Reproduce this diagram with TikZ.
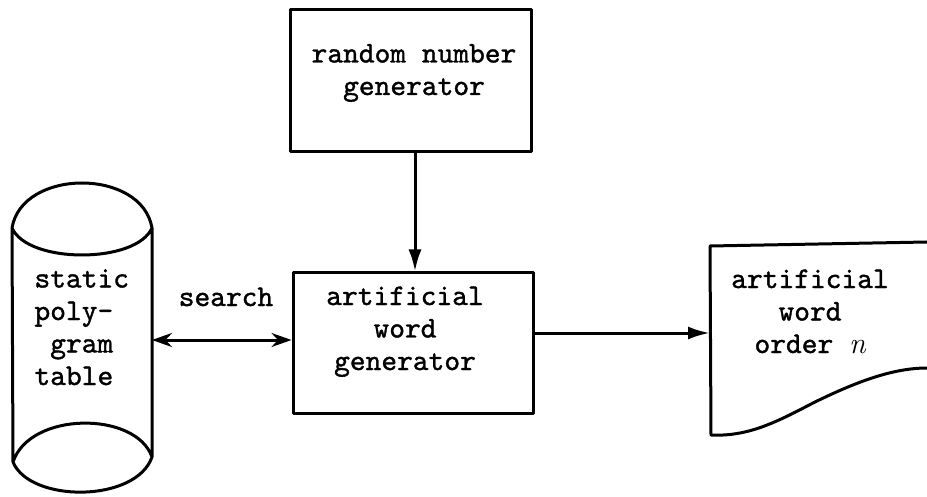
\documentclass[tikz,border=0pt]{standalone}
\usepackage{fontspec}
\newfontfamily\twfont{lmmono10-regular.otf}[FakeBold=1.2]
\usetikzlibrary{arrows.meta}
\begin{document}
\begin{tikzpicture}[x=1pt,y=-1pt,line width=3pt,line join=round,
  tw/.style={font=\fontsize{30}{32.5}\selectfont\twfont,inner sep=0pt},
  box/.style={draw,inner sep=0pt},
  arr/.style={-{Latex[length=22pt,width=13pt]}},
  dblarr/.style={{Stealth[length=20pt,width=14pt]}-{Stealth[length=20pt,width=14pt]}}]
\useasboundingbox (0,0) rectangle (927,497);

% process boxes
\node[box,minimum width=241pt,minimum height=142pt] (rng) at (410.5,81) {};
\node[tw,align=center,anchor=base] (rngtxt) at (414,95) {random number\\generator};

\node[box,minimum width=240pt,minimum height=140pt] (gen) at (413,343) {};
\node[tw,align=center,anchor=base] (gentxt) at (405,370) {artificial\\word\\generator};

% storage cylinder
\draw (12,228) .. controls (22,168) and (142,168) .. (152,228)
      (12,228) .. controls (28,264) and (136,264) .. (152,228)
      (12,228) -- (13,462)
      (152,228) -- (152,457)
      (13,462) .. controls (30,411) and (136,411) .. (152,457)
      (13,462) .. controls (30,503) and (136,503) .. (152,457);
\node[tw,align=left,anchor=base west] (tbl) at (33,385) {static\\poly-\\\phantom{g}gram\\table};
\coordinate (tblport) at (152,340);

% output document
\draw (927,242) -- (710,246) -- (711,435)
      .. controls (750,437) and (780,420) .. (815,402)
      .. controls (860,380) and (895,368) .. (927,368);
\node[tw,align=center,anchor=base] (doctxt) at (810,353) {artificial\\word\\order {\rmfamily\itshape n}};
\coordinate (docport) at (710,333);

% connectors
\draw[arr] ([xshift=4.5pt]rng.south) -- ([xshift=4.5pt]rng.south |- gen.north);
\draw[dblarr] (tblport) -- (tblport -| gen.west);
\node[tw,anchor=base] (lbl) at (226,306) {search};
\draw[arr] (gen.east |- docport) -- (docport);
\end{tikzpicture}
\end{document}
